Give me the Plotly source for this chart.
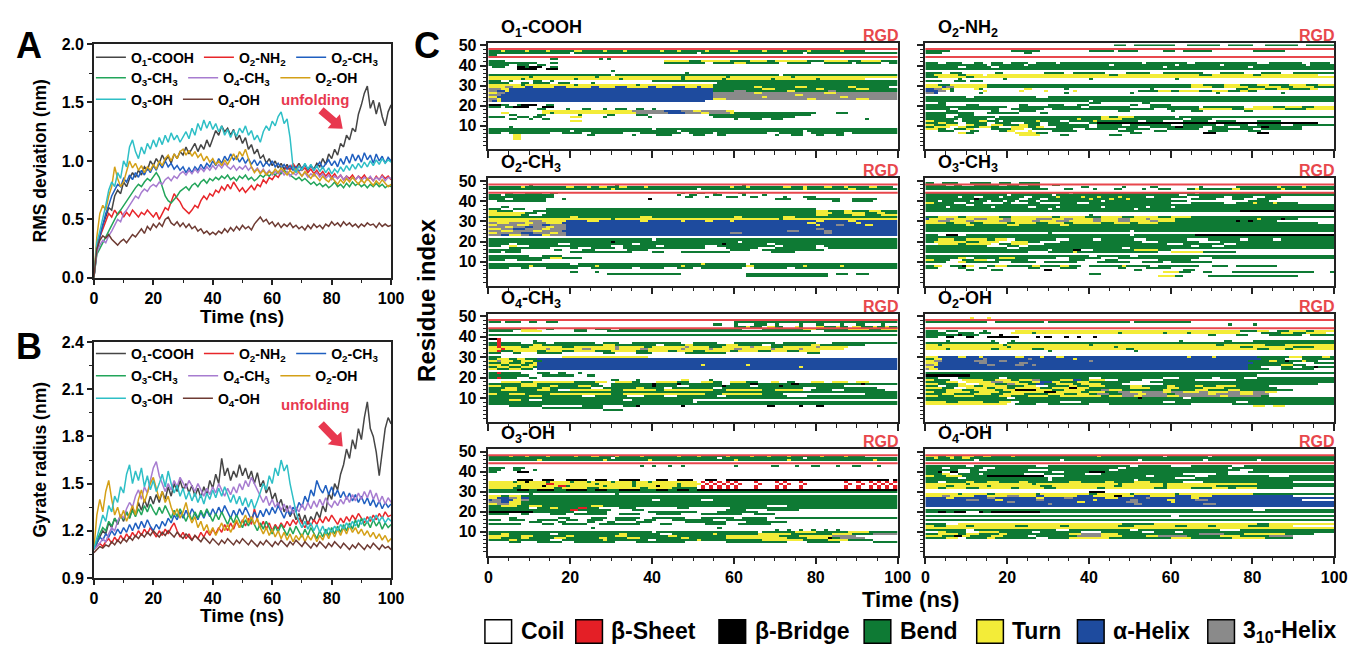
import re, math
import plotly.graph_objects as go

W, H = 1363, 659
FONT = "Liberation Sans, Arial, sans-serif"

time_ns = list(range(101))

series_names = ["O<sub>1</sub>-COOH", "O<sub>2</sub>-NH<sub>2</sub>", "O<sub>2</sub>-CH<sub>3</sub>",
                "O<sub>3</sub>-CH<sub>3</sub>", "O<sub>4</sub>-CH<sub>3</sub>", "O<sub>2</sub>-OH",
                "O<sub>3</sub>-OH", "O<sub>4</sub>-OH"]
series_colors = ["#454545", "#e8262a", "#1f5fc0", "#22a55a", "#a77cd0", "#d4a017", "#2ebfc6", "#6e3b33"]

# ---------------- Panel A : RMS deviation (nm) ----------------
rmsd_O1_COOH = [0.00,0.28,0.35,0.45,0.52,0.60,0.58,0.70,0.75,0.72,0.82,0.78,0.85,0.90,0.86,0.92,0.88,0.95,0.92,1.00,
                0.96,1.02,0.98,1.05,1.00,1.04,0.98,1.06,1.02,1.08,1.05,1.12,1.06,1.10,1.15,1.08,1.14,1.10,1.18,1.12,
                1.20,1.26,1.22,1.30,1.25,1.28,1.22,1.27,1.18,1.22,1.15,1.20,1.10,1.14,1.06,1.10,1.02,1.05,0.98,1.02,
                0.96,1.00,0.94,0.98,0.93,0.97,0.92,0.96,0.94,0.98,0.93,0.97,0.92,0.96,0.93,0.98,0.95,1.02,0.97,1.06,
                1.02,1.10,1.05,1.15,1.12,1.22,1.18,1.28,1.25,1.40,1.48,1.58,1.64,1.45,1.52,1.40,1.50,1.38,1.30,1.42,1.48]
rmsd_O2_NH2 = [0.00,0.25,0.35,0.42,0.48,0.55,0.52,0.58,0.54,0.57,0.52,0.56,0.53,0.58,0.55,0.52,0.56,0.54,0.58,0.55,
               0.52,0.56,0.50,0.55,0.60,0.58,0.66,0.72,0.68,0.65,0.60,0.57,0.55,0.58,0.62,0.60,0.66,0.70,0.67,0.72,
               0.70,0.75,0.73,0.78,0.75,0.80,0.76,0.82,0.78,0.74,0.77,0.73,0.76,0.79,0.75,0.80,0.78,0.84,0.81,0.86,
               0.84,0.88,0.86,0.90,0.92,0.95,0.92,0.98,0.94,0.96,0.92,0.94,0.90,0.93,0.89,0.92,0.88,0.91,0.87,0.90,
               0.86,0.89,0.85,0.88,0.84,0.87,0.85,0.88,0.84,0.87,0.85,0.88,0.84,0.86,0.83,0.87,0.84,0.88,0.85,0.87,0.84]
rmsd_O2_CH3 = [0.00,0.22,0.35,0.45,0.55,0.62,0.70,0.75,0.80,0.78,0.85,0.82,0.88,0.84,0.90,0.86,0.92,0.88,0.94,0.90,
               0.96,0.92,0.98,0.94,1.00,0.95,0.98,0.93,0.96,0.92,0.95,0.90,0.94,0.90,0.95,0.92,0.97,0.93,0.98,0.95,
               1.00,0.96,1.02,0.98,1.04,1.00,1.06,1.01,1.04,0.99,1.03,0.98,1.02,0.97,1.01,0.96,1.00,0.95,0.99,0.96,
               1.00,0.95,0.98,0.94,0.97,0.93,0.96,0.92,0.95,0.91,0.94,0.97,0.93,0.96,0.92,0.95,0.99,0.94,0.97,1.01,
               0.96,1.00,0.95,1.02,0.97,1.04,0.98,1.06,1.00,1.05,0.99,1.07,1.01,1.05,0.98,1.06,1.00,1.04,0.98,1.03,1.00]
rmsd_O3_CH3 = [0.00,0.20,0.25,0.30,0.35,0.40,0.45,0.50,0.55,0.58,0.62,0.66,0.70,0.74,0.77,0.80,0.78,0.82,0.85,0.83,
               0.87,0.90,0.86,0.78,0.70,0.66,0.64,0.67,0.70,0.74,0.76,0.78,0.75,0.79,0.81,0.78,0.82,0.84,0.81,0.85,
               0.83,0.86,0.84,0.87,0.85,0.88,0.84,0.86,0.83,0.87,0.85,0.88,0.84,0.86,0.83,0.85,0.88,0.86,0.89,0.87,
               0.90,0.88,0.91,0.89,0.92,0.90,0.88,0.86,0.84,0.86,0.83,0.85,0.82,0.80,0.82,0.79,0.81,0.78,0.80,0.77,
               0.79,0.82,0.78,0.80,0.77,0.81,0.78,0.82,0.79,0.81,0.78,0.80,0.77,0.80,0.78,0.81,0.78,0.80,0.77,0.79,0.78]
rmsd_O4_CH3 = [0.00,0.22,0.28,0.32,0.30,0.36,0.40,0.45,0.50,0.48,0.55,0.58,0.62,0.66,0.70,0.68,0.73,0.76,0.74,0.78,
               0.80,0.78,0.82,0.80,0.84,0.86,0.83,0.87,0.85,0.89,0.91,0.88,0.92,0.89,0.93,0.90,0.94,0.91,0.95,0.92,
               0.96,0.93,0.97,0.94,0.98,0.95,0.93,0.96,0.92,0.95,0.93,0.96,0.92,0.95,0.91,0.94,0.90,0.93,0.89,0.92,
               0.88,0.91,0.89,0.92,0.88,0.91,0.87,0.90,0.88,0.91,0.87,0.90,0.86,0.89,0.87,0.90,0.86,0.89,0.85,0.88,
               0.84,0.87,0.85,0.88,0.84,0.87,0.83,0.86,0.84,0.87,0.83,0.86,0.84,0.87,0.83,0.86,0.84,0.87,0.83,0.86,0.85]
rmsd_O2_OH = [0.00,0.35,0.55,0.62,0.58,0.70,0.78,0.95,0.85,0.78,0.82,0.90,1.00,0.94,0.98,0.92,0.96,0.90,0.95,0.92,
              0.97,0.93,1.00,0.96,1.02,1.05,1.00,1.06,1.02,1.08,1.10,1.05,1.09,1.04,1.08,1.03,1.06,1.00,1.04,0.99,
              1.02,0.97,1.00,0.96,1.01,0.97,1.02,1.06,1.01,1.08,1.04,1.10,1.02,0.95,0.90,0.93,0.89,0.92,0.88,0.91,
              0.89,0.93,0.90,0.94,0.91,0.88,0.92,0.89,0.93,0.90,0.87,0.91,0.88,0.85,0.89,0.86,0.83,0.87,0.84,0.82,
              0.86,0.83,0.80,0.84,0.81,0.85,0.82,0.86,0.83,0.80,0.84,0.81,0.85,0.82,0.79,0.83,0.80,0.84,0.81,0.78,0.80]
rmsd_O3_OH = [0.00,0.30,0.40,0.50,0.62,0.75,0.82,0.78,0.90,0.85,1.00,0.95,1.12,1.18,1.08,1.02,1.12,1.06,1.15,1.10,
              1.18,1.12,1.20,1.14,1.22,1.16,1.24,1.18,1.22,1.16,1.20,1.25,1.19,1.28,1.22,1.32,1.26,1.35,1.28,1.34,
              1.27,1.32,1.25,1.30,1.22,1.27,1.20,1.26,1.21,1.28,1.24,1.30,1.22,1.26,1.18,1.22,1.16,1.25,1.30,1.26,
              1.34,1.30,1.38,1.42,1.32,1.36,1.20,0.95,0.90,0.96,0.92,0.98,0.93,0.97,0.92,0.96,0.91,0.95,0.90,0.94,
              0.89,0.93,0.90,0.95,0.91,0.96,0.92,0.97,0.93,0.98,0.94,0.99,0.95,1.00,0.96,1.01,0.97,1.02,0.98,1.01,0.99]
rmsd_O4_OH = [0.00,0.25,0.32,0.36,0.34,0.37,0.33,0.30,0.28,0.31,0.33,0.30,0.34,0.37,0.35,0.39,0.42,0.38,0.44,0.41,
              0.46,0.43,0.47,0.44,0.50,0.52,0.47,0.45,0.48,0.44,0.47,0.43,0.46,0.42,0.44,0.40,0.42,0.38,0.40,0.37,
              0.39,0.37,0.40,0.38,0.42,0.39,0.43,0.40,0.44,0.41,0.45,0.42,0.44,0.41,0.46,0.49,0.52,0.48,0.50,0.46,
              0.48,0.44,0.47,0.43,0.46,0.44,0.47,0.43,0.45,0.42,0.44,0.41,0.45,0.42,0.46,0.43,0.45,0.42,0.46,0.44,
              0.48,0.45,0.47,0.44,0.48,0.45,0.47,0.44,0.46,0.43,0.46,0.44,0.47,0.45,0.46,0.43,0.47,0.44,0.46,0.44,0.45]

# ---------------- Panel B : Gyrate radius (nm) ----------------
rg_O1_COOH = [1.08,1.12,1.15,1.20,1.18,1.25,1.22,1.28,1.24,1.30,1.26,1.32,1.28,1.35,1.30,1.38,1.33,1.40,1.35,1.42,
              1.37,1.43,1.38,1.45,1.40,1.48,1.42,1.50,1.45,1.52,1.46,1.50,1.44,1.49,1.42,1.47,1.41,1.48,1.43,1.52,
              1.47,1.56,1.50,1.66,1.55,1.60,1.52,1.58,1.54,1.62,1.55,1.60,1.53,1.58,1.50,1.57,1.48,1.52,1.44,1.48,
              1.40,1.44,1.36,1.40,1.32,1.36,1.29,1.33,1.27,1.31,1.25,1.30,1.24,1.29,1.26,1.32,1.28,1.36,1.32,1.44,
              1.40,1.50,1.46,1.56,1.62,1.72,1.66,1.78,1.72,1.85,1.78,1.92,2.02,1.85,1.80,1.70,1.55,1.72,1.85,1.92,1.88]
rg_O2_NH2 = [1.08,1.10,1.12,1.10,1.13,1.15,1.12,1.16,1.13,1.17,1.14,1.18,1.15,1.19,1.16,1.20,1.17,1.21,1.18,1.22,
             1.19,1.16,1.20,1.17,1.21,1.18,1.22,1.25,1.20,1.16,1.19,1.15,1.18,1.14,1.17,1.15,1.19,1.16,1.20,1.17,
             1.21,1.18,1.22,1.19,1.24,1.20,1.25,1.21,1.26,1.22,1.27,1.23,1.28,1.24,1.34,1.27,1.22,1.26,1.21,1.25,
             1.20,1.24,1.21,1.25,1.22,1.26,1.23,1.27,1.24,1.28,1.25,1.22,1.26,1.23,1.27,1.24,1.28,1.25,1.29,1.26,
             1.30,1.27,1.24,1.28,1.25,1.29,1.26,1.30,1.27,1.31,1.28,1.25,1.29,1.26,1.30,1.27,1.31,1.28,1.32,1.29,1.30]
rg_O2_CH3 = [1.08,1.12,1.16,1.14,1.18,1.16,1.20,1.17,1.21,1.18,1.22,1.19,1.24,1.20,1.25,1.21,1.26,1.22,1.27,1.23,
             1.20,1.24,1.21,1.26,1.23,1.28,1.25,1.30,1.27,1.32,1.28,1.33,1.29,1.34,1.30,1.27,1.32,1.28,1.33,1.29,
             1.34,1.30,1.35,1.31,1.36,1.32,1.28,1.33,1.29,1.34,1.30,1.35,1.31,1.27,1.32,1.28,1.33,1.29,1.34,1.30,
             1.35,1.31,1.36,1.32,1.28,1.33,1.30,1.35,1.32,1.38,1.35,1.42,1.38,1.46,1.42,1.52,1.47,1.44,1.49,1.43,
             1.48,1.42,1.46,1.41,1.45,1.40,1.44,1.39,1.43,1.38,1.42,1.37,1.41,1.36,1.40,1.35,1.39,1.34,1.38,1.35,1.37]
rg_O3_CH3 = [1.08,1.14,1.18,1.22,1.20,1.26,1.23,1.28,1.25,1.30,1.27,1.32,1.28,1.33,1.29,1.34,1.30,1.36,1.32,1.37,
             1.33,1.30,1.35,1.31,1.36,1.32,1.28,1.33,1.29,1.34,1.30,1.26,1.31,1.27,1.32,1.28,1.33,1.29,1.34,1.30,
             1.26,1.31,1.27,1.32,1.28,1.24,1.29,1.25,1.30,1.26,1.22,1.27,1.23,1.28,1.24,1.20,1.25,1.21,1.26,1.22,
             1.18,1.23,1.19,1.24,1.20,1.17,1.22,1.18,1.23,1.19,1.16,1.21,1.17,1.22,1.18,1.15,1.20,1.16,1.21,1.17,
             1.22,1.18,1.23,1.19,1.24,1.20,1.25,1.21,1.27,1.22,1.28,1.23,1.26,1.22,1.27,1.23,1.26,1.21,1.25,1.22,1.24]
rg_O4_CH3 = [1.08,1.10,1.12,1.15,1.13,1.18,1.22,1.20,1.26,1.30,1.28,1.34,1.38,1.35,1.42,1.46,1.40,1.48,1.44,1.52,
             1.60,1.64,1.55,1.50,1.45,1.50,1.46,1.52,1.48,1.54,1.50,1.47,1.52,1.48,1.45,1.50,1.46,1.42,1.47,1.43,
             1.48,1.44,1.50,1.46,1.42,1.47,1.43,1.48,1.44,1.50,1.46,1.52,1.48,1.54,1.50,1.46,1.42,1.38,1.42,1.36,
             1.40,1.35,1.38,1.33,1.37,1.32,1.36,1.31,1.35,1.32,1.37,1.33,1.38,1.34,1.39,1.35,1.40,1.36,1.41,1.37,
             1.35,1.39,1.36,1.40,1.37,1.42,1.38,1.43,1.39,1.44,1.40,1.45,1.41,1.46,1.40,1.44,1.38,1.42,1.37,1.41,1.38]
rg_O2_OH = [1.08,1.30,1.40,1.32,1.45,1.52,1.40,1.30,1.35,1.28,1.33,1.26,1.31,1.36,1.30,1.40,1.46,1.38,1.44,1.50,
            1.54,1.46,1.40,1.45,1.38,1.42,1.35,1.30,1.34,1.28,1.32,1.38,1.30,1.25,1.29,1.22,1.26,1.20,1.24,1.18,
            1.22,1.17,1.21,1.25,1.20,1.24,1.19,1.23,1.27,1.22,1.26,1.30,1.25,1.29,1.24,1.28,1.22,1.18,1.22,1.17,
            1.21,1.16,1.20,1.15,1.19,1.14,1.18,1.13,1.17,1.14,1.18,1.13,1.17,1.14,1.18,1.13,1.17,1.14,1.19,1.15,
            1.20,1.16,1.21,1.17,1.22,1.18,1.23,1.19,1.22,1.18,1.21,1.17,1.20,1.16,1.19,1.15,1.18,1.14,1.17,1.13,1.15]
rg_O3_OH = [1.08,1.15,1.22,1.30,1.26,1.36,1.32,1.42,1.38,1.48,1.44,1.56,1.62,1.50,1.58,1.52,1.60,1.48,1.55,1.46,
            1.52,1.45,1.50,1.56,1.48,1.58,1.50,1.44,1.49,1.42,1.47,1.40,1.45,1.39,1.44,1.38,1.43,1.37,1.44,1.40,
            1.46,1.41,1.47,1.42,1.48,1.43,1.38,1.43,1.37,1.42,1.36,1.41,1.35,1.40,1.34,1.39,1.45,1.50,1.46,1.55,
            1.50,1.60,1.55,1.65,1.58,1.62,1.50,1.40,1.32,1.26,1.22,1.26,1.21,1.25,1.20,1.24,1.19,1.23,1.18,1.22,
            1.19,1.23,1.20,1.24,1.21,1.25,1.22,1.26,1.23,1.27,1.24,1.28,1.25,1.29,1.26,1.30,1.26,1.29,1.25,1.28,1.26]
rg_O4_OH = [1.06,1.08,1.10,1.09,1.11,1.10,1.13,1.11,1.14,1.12,1.15,1.13,1.16,1.14,1.17,1.15,1.18,1.16,1.19,1.17,
            1.20,1.18,1.16,1.19,1.17,1.20,1.18,1.16,1.19,1.17,1.15,1.18,1.16,1.14,1.17,1.15,1.13,1.16,1.14,1.12,
            1.15,1.13,1.11,1.14,1.12,1.15,1.13,1.11,1.14,1.12,1.15,1.13,1.11,1.14,1.12,1.10,1.13,1.11,1.14,1.12,
            1.10,1.13,1.11,1.14,1.12,1.10,1.13,1.11,1.14,1.12,1.10,1.13,1.11,1.09,1.12,1.10,1.13,1.11,1.09,1.12,
            1.10,1.13,1.11,1.09,1.12,1.10,1.08,1.11,1.09,1.12,1.10,1.08,1.11,1.09,1.12,1.10,1.08,1.11,1.09,1.10,1.08]

rmsd_series = [rmsd_O1_COOH, rmsd_O2_NH2, rmsd_O2_CH3, rmsd_O3_CH3, rmsd_O4_CH3, rmsd_O2_OH, rmsd_O3_OH, rmsd_O4_OH]
rg_series = [rg_O1_COOH, rg_O2_NH2, rg_O2_CH3, rg_O3_CH3, rg_O4_CH3, rg_O2_OH, rg_O3_OH, rg_O4_OH]

# ---------------- Panel C : DSSP secondary structure ----------------
ss_labels = ["Coil", "β-Sheet", "β-Bridge", "Bend", "Turn", "α-Helix", "3<sub>10</sub>-Helix"]
ss_letters = "CEBSTHG"
ss_colors = ["#ffffff", "#e41f26", "#000000", "#0e7a34", "#f3ec38", "#1e4b9e", "#8a8a8a"]

# run-length rows, residue 50 first down to residue 1; letter + length in 1-ns bins
dssp_O1_COOH = [
"C100","C100","C4S1C12S1C18S1C20S1C14S1C27S1",
"S3T1S5T1S4T1S6T2S5T1S4T1S8T1S3T1S6T1S5T2S6T1S4T1S5T1S7T1S5",
"S20C1S30C1S25C1S22","S2C98","C100","C15S2C10S1C1S1C70",
"S4C39T6S3T7S5T4S2T8S4T6S3T5S4T4","S12C3S2C26S10C2S5T3S8C2S6C3S7C1S6C2S5",
"S5C2S3C2S2C86","C1S3C3B2S1B3C2S2C83","C7B5C2B3C83","C30S1C69","C48S1C51",
"S30C1S40C1S28","T10S1T15S1T20S1T10S1T15S1T25","T8S1T12S1T10S1T14S1T9S1T11S1T10S1T11",
"S3C2S1C5S2C2S1C24S60","S5C3S2C1S4C2S3C5S1C30S44","T8S1T12S1T14S1T18S45",
"T4G2T3H2T5H3T6H2T4H3T5H2T4H3T3H1T3S10T2S8T3S10T2S8",
"G3T2H50S12T3S10T2S8T3S7","G2H2T1H50S5G3S10T2S8G2S15","T2G2H51G10T2G15T3G15",
"G3H52G20T2G23","T2H53G12T1G18T2G12","G2T1H52T3G20T2G10T3G7","G1H1T1H50C47","C100",
"B3S2C2S1B4C2S2C84","S3C1S2B4C3B3C84","C12S2C5S1C3S2C3S1C2S3C2S2C2S1C61",
"C13T22G8H4G3T2G6T2C40","C3T2C8T2S1T20G8H4G4T2G5T1S20C5S3C13",
"C5S2C5S2C8S1C6S2C5S3C15S25C21","S4C3S3C1S2C7T3C5S1C10S1C15S20C25",
"C5S2C3S1C2S2C45S1C3S3C2S3C20S1C8","C20T3C77","C100","C100","C5S1C94",
"S40C1S59","S20C1S25C1S30C1S22","S3C2S10C3S5C2S8C4S10C2S6C1S12C3S6C2S8C2S11",
"C6T2C16S2C9S1C5S4C5S3C3S2C12S1C3S3C3S2C3S2C15","C6T2C92","C6T2C92","C100","C100"]

dssp_O2_NH2 = [
"C46S3C2S10C3S8C2S6C3S8C2S7","C100","C100","S6C15S7C12S6C1S5C6S3C2S7C10S8C12",
"S4C20S2C76","C100","C100","C100","C100",
"S3C2S4C3S2C2S3C2S4C2S5C1S20C1S10C2S15C3S8C2S5","S15C1S8C1S20C1S15C1S10C1S20C1S7",
"S8C2S6C2S40C1S20C1S20","S100","C100","S4C2S3C8S2C10S5C2S8C5S6C3S10C4S6C4S5C3S10",
"S2T6S2T4C1T30S2T20S3T10S2T14","S3T7S2T88","C8S1C10S1C20S1C20S1C39","S4C3S3C1S3C86","C100",
"T3S3T9S50T3S5T4S4T3S5T4S3T4","T4H1G2T8S50T5S3T6S4T4S3T5S5",
"H2G2T2S1C5T1S1C10T2C8S1C20S1C20S3T4S3T3S5T2","H3G2C1S1C7T1C8T1C5T1C6T1C15S5T3S2T5S3T4S3T2S2",
"G2H1C10S1C20S1C15S1C20S1C15S1C13","C100","S10C2S15C3S70","S100","S40C1S59",
"C3S2C35S3C10S2C45","S5C5S3C10S2C5S4C3S3C10S2C3S5C40","S20C3S15C2S10C5S12C1S10C2T5S3T4S3T5",
"S6C2S10C3S8C2S25C3S8T8S3T10S5T7","C5S3C8S2C5S4C20S3C10S1C4S3C10S2C20","S12C3S8C5S2C70",
"S5C3S4C88","S5C2S10C1S25T2S2T4S10C1S38","S8C1S6C2S20T1S5T5S5S10C2S5C30",
"T2S5C2S4T2S3C1S8T1S5C2S6T1S10C2S4C5S6C2S5C5S6C5","S3T2S3C2S5C2S4C3S4C2S5C5S2B54",
"T2S3T3C2T2S3C1T3S4T2S3C2S10C2S6C2S10C3S8C2S6C2S6C3S10",
"S2T4C2T2S3T3S2C3T4S2T2C3S8C2S10C3S6B2S5C2S4C3S5B2S8",
"T3S2C2S3T2C4S5T3C2S10C3S8C2S6C4S8C3S10C2S10","C3S4C4S2C5S2T2C3T1C5S6C10S4C5S3C10S5C5S3C4",
"C8T2S2C10T5S3C20S3C15B3C10B3C16","C23T5C5S2C10S3C52","C100","C100","C100","C100"]

dssp_O2_CH3 = [
"C100","C100","C10S1C20S1C30S1C37",
"S8T1S10T2S3T1S2T2S3T2S4T1S20T1S3T1S8T2S3T1S4T2S3T1S5T2S4","S30T1S20C1S25T1S10T2S10","C100",
"C4S2C3S4C2S2C30S1C3S2C2S1C5S2C38","S3C1S12C30S1C2S2C4S2C5S1C4S1C33",
"S16C32S2C3S1C4S3C3S2C6S1C4S3C20","S4C2S8C4S1C20B1C30S4C4S8C3S6C5","C2S12C70S2C3S5C6",
"C100","C100","C3S2C95","S3C3S3C5S66C20","T2S4C5S3S66T3S4T2S4T3S4","T9S3C2S66T4S3T5S3T2S3",
"T8S2C3S67T3S6T3S4T4","S20T2S15T3S20T2S10T3S25","T30S1T40S1T28",
"T10G3T6H5T3H10T2H8T1H5T2H4T1H20T2H6T2H10","G2T3G4T2G3T4H60T2H10T1H9",
"T2G5T3G3H2G4H61T1H4G2H5T2H8","G4T2G3H2G3T2G3H81","T3G3H3G4T2G4H61G2H18",
"G3T3G5T2G5H55G3H6G2H16","T2G6H3G4T2G2H40G3H20G2H16","G3H2T3G2H3T2G4H81","C100",
"S40C1S59","S30B1S30C1S38","S5C2S10C3S15C2S20B1S10C2S30","S3C2T2C3S20C3S8C2S10C3S14C2S8C2S18",
"C5S10C5S2C3S6C2S20C5S8C4S10C3S17","S8C8S2C5S3C8S5C20S5C3S15C18","S3C1S4C12S15C5S3C4S12C10S6C25",
"C100","S10C3S5C82","S15T3S5C77","S4C3S6C87","C100","S20C2S30T1S10C1S36",
"S10T1S15T1S20T1S15T2S12T1S8T1S13","S5C3S2C4S8C3S10C2S6C3S4C2S10C3S8C2S25","C100",
"C20S2C4S1C73","C29S18C16S20C2S3C2S3C27","C63S20C17","C100","C100"]

dssp_O3_CH3 = [
"C100","S2C2S4C3S5C2S3C2S5C72","S5C2S2C3S6C2S3C2S3C3S2C67","S28C10S2C8S1C6S2C10S1C8S10T1S5T1S8",
"S30C4S2C5S1C4S2C5S1C3S3C4S2T1S8T2S10T1S12","C100","S35C1S30C1S33","S20C1S10C1S30C2S36",
"S8C1S3C2S4C1S5C2S6T1S5T1S3T1S4T1S6C2S8C3S6C2S5C3S4C3","S12B1S10C2S3C2S10T1S4T1S3T1S5S5C5S6C4S3C3S5C10",
"S3C1S7C1S3C1S3C1S2C1S4C1S15C1S20C15S5C12","T2S5C3S4C5S2C4S3C5S4C3S20C5S8C3S4T1S4T1S5",
"S10C2S88","S5C1S10C1S8C2S5C1S10C1S10C1S5C1S40","S30C1S20C1S48","S77B23","C100","C40S1C59",
"S3T5S2T8S3T10S2T6S4T5S3T6S3T5S35","H1T4G2T5G3T4G2T6G4T3G2T5G2T4G3T4G1T6S20T1S5B1S3",
"T3G3T4G2T6G3T5G2T4G3T6G2T4G3T5G2T4S15B1S2B1S6","T5S2T4S3T6S2T5S3T4S2T7S3T4S2T5S3S36",
"S10T2S8T3S10T2S65","S100","S100","S50C1S49","C30S1C69","S3C2B3C2S40C1S15B34","S100",
"S3T4S3T5S2T3C2S10C3S6C2S8C3S10C5S8C2S6C2S13","S2T8S3T5C3T4S3C5S20C4S10C5S28",
"C3T5S2T6C2S3T4C4S30C4S10C3S24","S15C5S3C2S40C2S3C3S27","S20C3S25C2S50","S30C1S5B2C3S10T6S3C40",
"S25C5S6T1S20C3T8S8C24","C100","S40C2S8C2S48","S8T2C2S6T4S10C3S8C4S20C3S30",
"T2S4C3S3T3C2S8C10S4C5S3C10S8C35","S5C3T2S8C3S6C2S8C5S8C3S5C2S10C30","C100",
"S2T2C2S3B1T2C3S2T3S6T2S5T2S3C2S8T1S6C2S10C3S4C2S10","S3C5S2C3S2C10S3C5S4C10S2C5S6C40",
"C10S2C4S3C10B2C20S2C10S3C34","C58T4S3C3S2C5S20C4S1","C40S3C57","C57T4S2C6S22C9","C100","C100"]

dssp_O4_CH3 = [
"C100","C100","S16C8S1C14S1C3S1C2S1C8S1C45","S3C1S4C2S2C2S3C43S45",
"C55S2C3S1C4S3C2S1C5S1C3S2C4S1C3S2C4S1C3","C60S3T1S3C1T2S2C3T1S1C3T2S3T1S2C1T2S3T1S2T1S3",
"S8T4C2S2C5S3C2S4C2S30C5S10T3S8T5S3T4","S6C2T5C8S3C5S50C3S18","C100","S100","C100",
"B2E1C97","C2E1C8S1C88","S2E1S5C3S3C2S10C2S4C3S12C3S6C4S10C2S8C4S16",
"S2E1S8T2S15T3S10C2S5T2S8T3S6C2S10T2S11","T2E1T5S2T8S3T10G1T6S2T8G1T5S3T7G1T4S3T8G1T7",
"T3E1T10G1T8G2T6G1T5G2T8G1T6G1T5G2T7G1T6G1T10","T2E1S3T6S2T4S3T5S4T6S3T5S2T4S3T6S2T5S3T4S3T5",
"S3C3S2C4S6C10S3C5S4C8S10C20S3C15","C100","S3C15T21C61","S2T3S2T2S3H88","T2G1T3S2T3S2H87",
"S3T2S3T1S2T1H88","T3S2T3S2T2H40T1H10T1H38","S2T3S3T3S1H64T1H23","T2S3T3S3C1H88","C100",
"S2E1S5C4S3C2S2C3S1C78","S10C3S8C3S2C74","S2E1S4C3S2C88","C30S2C4S1C10T2C5S1C45",
"C3T5S3T10S5T3C2T4S2C4T5S3C3T3S2C2T4S3C3T2C2S2C4T3C2T4C2T3",
"S8T4S15C3S10B1S5B1S10C2S5B2S8B2S15B1S8","T3S5T4S3T2S5T3S3C2S10B1S5C3S8B1S6C2S5B1S15",
"S4T3S6T2S10C3S8T2S5C2S10C2S20C3S15","S3T4S5T3S2C3T10S3T8S2T12S3T9S3T7C2S5C3S10","S100",
"T2S3T4S6T15S3T20S4T10S5C20S8","S10T3S10C3S8C4S5C3S10C2S15C5S22","S100",
"S5T3S2C3S20C2S15C50","S50C1S49","S100","C5S8C10S5C5S3B1C10B1C20B2C6B1C3B2C10",
"C13S15C72","C28S5C67","C100","C100","C100"]

dssp_O2_OH = [
"C100","C11T1C3T1C84","S2T1S3C1S5T1S4C1S8C1S5T1S6C1S4T1S5C1S6T1S5C35","S15C2S12C1S20C1S14C35",
"C74S1C5S1C19","C100","C100","S3C2S3C6S1C7T55S4T3C2S3T4S2T6",
"S5C3S4C1S3C5T5S1T20S1T10S1T5S1T12C5S5T3S3T5","S8B1S4C5B1C50S2C5S3C5S8C2S6",
"S3C2B2C3B2C3B8C4B1C1B2C3B1C2B1C3B1C60","C100","C5S1C10S1C4S1C40S1C10S2C5S20","S18C2S80",
"T3S1T15S1T20S1T30S2T10S5T12","T20S1T25S1T30S3T10S5T5","T5S1T10S2T8S3T20S2T30S3T4S2T10",
"C30S1C20S1C48","C100","C100","T3H5T2H3T1H8T2H4T1H3T2H30T1H5T1H10S8T3S5T2S2",
"S2T2H10G1H10G1H10T1H45S6C4S8","T2G2H8G3H3G2H20G1H38S5T2S2B1S3T1S3","T3H10G2H8G2H55S10C5S5",
"G2T1H12G2H5G2H2G1H52S8T3S3","T2H77S3C5S3C2S3B1S4","G1T2H76S5C3S8C5","C100","S100","B11S70C19",
"S3C5S10C2S20C3S15C4S8C2S6C3S19","T2S4C3T5S3T4S2T3G2S5T3H2S2T4C3S6C5S8C10S26",
"S5T3C2T6G3T4S3T2H3T2S4T3S10C5S45","T3S5T2C3T4S3G2T3S2H2S3T4S2T5S5C10S38",
"S3C2S3T4S2T6S4T3C3S5T2S3T4S6T3S6T2S5T2S3T5S8","T4S3C3T5S2T3S2T6S3T4B2T3S10T5S4T3S6T5S13",
"S5T4S3T5S2T3B5T4S3T5S4G2T3S10T2S6T3S5T3S13","T2S3T6S2T5S3T8B3T6S2T4S3G3T3G5T2G3T4G2T5G3T3G3T3",
"S4T3S5T4S3T5S6T4S3T3S2G3S3G4T2G5S2G8T2G6T3G4","T3S4T5S6T3S4T5S3T10S2T3G3T2G6T3G10T2G8S2",
"S20C2S30B1S10C2S35","S100","T5S3T6S4T3C2S10C5S20C3S15C3S21","T20C2S5C3S10C5S20C10S25",
"C80T3C2T3C12","C100","C100","C100","C100","C100"]

dssp_O3_OH = [
"C100","C100","S5T1S3T1S4T1S6T1S3T2S4T1S5T1S8T1S4T1S6T1S5T1S3T1S4T1S7T1S5T1S4",
"S30C1S25C1S20C1S22","S12T1S15T1S10T1S20T1S12T1S20T1S5","C100","C100",
"C37S1C2S1C3S1C2S1C12S1C8S2C4S1C3S2C4S1C3S2C4S1C5S1","S4C2S3C91","S3C3S2C3S1C88","S2C5B3C90",
"C100","C100","C100","C7B4C2B3C3B5C2B3C3B5C4B3C2B4C3B3C2B40C1B5",
"T6S1T2B1T4S1T5S1T3S1T5S1T4S1T3S1T6T5C1E1C1E1C1E1C1E1C1E1C4E1C4E1C1E1C3E1C10E1C2E1C2E1C1E1C1E1C1E1",
"T14E2T10S1T8S1T10S1T5C1E1C1E1C1E1C1E1C1E1C4E1C4E1C1E1C3E1C10E1C2E1C2E1C1E1C1E1C1E1",
"T7S1T5B1T3E2S1T8S1T6S1T5B1T4S1T4C1E1C1E1C1E1C1E1C1E1C4E1C4E1C1E1C3E1C10E1C2E1C2E1C1E1C1E1C1E1",
"T6S2T8S2T6S3T10S2T6S6C1E1C1E1C1E1C1E1C1E1C4E1C4E1C1E1C3E1C10E1C2E1C2E1C1E1C1E1C1E1",
"S7B3S2B4S3B5S2B3S3B5S4B3S2B3S2B50","S100","C10S1C20S1C68","T3S2T3S92","T2H3G2T1H2S90",
"H1G2H3T2G2S30C2S10C3S48","G3H2T3S92","T2G3T3S92","S3T4S3T3S12T3S40C5S27",
"S10C2S3T2S5E2S3C5S4C10S3C10S41","S20E2S8C5S3C20S5C5S8C24","B11S10C3S5C10S12C5S10C34",
"S5C3S2C5S4C2S8C3S5C4S6C5S10C3S5C30","C100","C5S2C10S3C5S4C2S6C3S8C4S8C2S6C2S30",
"S3C2S4C3S5C2S3C2S4C3S5C2S3C4S10C3S10C32","C10S3C4S2C5S2C3S2C5S4C8S10C5S10C27",
"S8C5S3C2S6C3S10C5S3C8S5C3S8C31","C100","C25S1C30S1C43","C70S1C2S1C2S1C2S1C2S1C2S1C15",
"S40C1S25C1S8T5S8T5S7","S3T2S10C2S15T2S8C3S10T1S10T8S10T5S5G6","T5S3T3S8T2S10T3S10T2S12T13S5T8S0G6",
"T3S5T2S6T3S8T2S5T3S10T2S9T15S5T5B1S2G6","S5T2S8C3S10T1S10C2S10T1S15T10S6T5S6",
"C5S3C4S6C3S10C5S12C10S15C5S8C8S6","C100","C100","C100","C100"]

dssp_O4_OH = [
"C100","C100","T3S2T2S2T3S2T2S5T1S20T1S15C1S10C1S30","S2T1S3T1S2T2S89",
"S12C1S20C1S18C1S15C1S12C1S19","C100","C100","S10C2S15C3S20C2S8C5S10C3S22",
"S4C2S8C3S30C2S25C1S25","S8C3S2C2S10C5S15C2S30C3S20","S3B1C2B2C3S20C3S6B4S30C5S21",
"S4T2C2S5C1S10C5S10C4S20C8S3C26","T2S3T4S6B14C5S20C2S10C3S15C5S11","S8C2S20C1S30C5S34",
"S30C1S20C1S48","S3C2S5T2S3T3S5T2S10T3S6T2S5T4S8C5S22","T10S1T15S1T20S1T10S1T22S19",
"T5S2T8S1T12S3T15S2T10S1T12S29","T3S2T5S3T8S2T6S3T10S2T12S3T6S5T4S2T5S9","C100","C40B4C56",
"T8S1T6S2T10S1T12S2T8S1T10S1T18S20","T4G2T6H3T5G3T4H2T8H4T5B2T3H4T6H4T5H20",
"H5T2H8G2H10T2H5G2H8T3H7G1H10T2H33","H10G3H4T2H8G2H12T1H8G2H7T2H5G3H23",
"H20G2H15T2H10G3H8T1H39","H30G1H20G2H15G3H29","H100","C100","S80C3S17","S3B2S2B3C3B1S2B12S72",
"C100","S60C2S38","C100","S100","C100","S5C3T40S8T25S3T16",
"T2S3T5S2T10S3T8S2T12S4T10S3T5S2T8S5T6","T100","S10C2S20C3S15C2S20C5S23",
"C3T2S5C3T5S8C2S10C5S10C3S5C2S37","S3T5S2T3S5T2S15T3G5T4S20G6S5T10S7",
"T4S3B2T2S5T3S6C2S10G6T5S6T3G7S8T5S7G6","S5T3C2S5T2S10C3S5T10S15T5S10T8S7",
"C100","C100","C100","C100","C100","C100"]

panel_names = ["O<sub>1</sub>-COOH", "O<sub>2</sub>-NH<sub>2</sub>", "O<sub>2</sub>-CH<sub>3</sub>", "O<sub>3</sub>-CH<sub>3</sub>",
               "O<sub>4</sub>-CH<sub>3</sub>", "O<sub>2</sub>-OH", "O<sub>3</sub>-OH", "O<sub>4</sub>-OH"]
panel_rows = [dssp_O1_COOH, dssp_O2_NH2, dssp_O2_CH3, dssp_O3_CH3, dssp_O4_CH3, dssp_O2_OH, dssp_O3_OH, dssp_O4_OH]
residues = list(range(1, 51))
time_bins = [i + 0.5 for i in range(100)]


def decode(rows):
    idx = {c: i for i, c in enumerate(ss_letters)}
    z = []
    for s in rows:
        seq = []
        for ch, n in re.findall(r"([CEBSTHG])(\d+)", s):
            seq += [idx[ch]] * int(n)
        seq = (seq + [0] * 100)[:100]
        z.append(seq)
    return z[::-1]


def PX(x):
    return x / W


def PY(y):
    return 1 - y / H


fig = go.Figure()
legend_rows = [[0, 1, 2], [3, 4, 5], [6, 7]]
for panel, (series, xa, ya, legs) in enumerate([(rmsd_series, "x", "y", ["legend", "legend2", "legend3"]),
                                               (rg_series, "x2", "y2", ["legend4", "legend5", "legend6"])]):
    for i, vals in enumerate(series):
        leg = legs[[k for k, r in enumerate(legend_rows) if i in r][0]]
        fig.add_trace(go.Scatter(x=time_ns, y=vals, mode="lines", name=series_names[i],
                                 line=dict(color=series_colors[i], width=1.5),
                                 xaxis=xa, yaxis=ya, legend=leg, hoverinfo="skip"))

ncol = len(ss_colors)
colorscale = []
for i, c in enumerate(ss_colors):
    colorscale += [[i / ncol, c], [(i + 1) / ncol, c]]

tops = [36, 175, 314, 453]
bots = [145, 285, 425, 562]
cols = [(490.5, 905.0), (933.0, 1347.0)]
layout_axes = {}
annotations = []
shapes = []

axis_line = dict(showline=True, linecolor="#222222", linewidth=1.5, mirror=True, showgrid=False, zeroline=False,
                 ticks="outside", tickcolor="#222222", tickwidth=1.5)
tick_font = dict(family=FONT, size=16, color="black", weight="bold")
tick_font_c = dict(family=FONT, size=16, color="black", weight="bold")

layout_axes["xaxis"] = dict(axis_line, domain=[PX(91), PX(392)], range=[0, 100], tick0=0, dtick=20, ticklen=5,
                            anchor="y", tickfont=tick_font,
                            minor=dict(ticks="outside", dtick=10, ticklen=3, tickwidth=1.2, tickcolor="#222222"))
layout_axes["yaxis"] = dict(axis_line, domain=[PY(277), PY(37)], range=[0, 2.0], tick0=0, dtick=0.5, ticklen=5,
                            tickformat=".1f", anchor="x", tickfont=tick_font,
                            minor=dict(ticks="outside", dtick=0.25, ticklen=3, tickwidth=1.2, tickcolor="#222222"))
layout_axes["xaxis2"] = dict(axis_line, domain=[PX(91), PX(392)], range=[0, 100], tick0=0, dtick=20, ticklen=5,
                             anchor="y2", tickfont=tick_font,
                             minor=dict(ticks="outside", dtick=10, ticklen=3, tickwidth=1.2, tickcolor="#222222"))
layout_axes["yaxis2"] = dict(axis_line, domain=[PY(585), PY(343)], range=[0.9, 2.4], tick0=0.9, dtick=0.3, ticklen=5,
                             tickformat=".1f", anchor="x2", tickfont=tick_font,
                             minor=dict(ticks="outside", dtick=0.15, ticklen=3, tickwidth=1.2, tickcolor="#222222"))

panel_order = [(0, 0, 0), (1, 1, 0), (2, 0, 1), (3, 1, 1), (4, 0, 2), (5, 1, 2), (6, 0, 3), (7, 1, 3)]
for k, (pi, col, row) in enumerate(panel_order):
    n = k + 3
    xa, ya = f"x{n}", f"y{n}"
    x0, x1 = cols[col]
    fig.add_trace(go.Heatmap(x=time_bins, y=residues, z=decode(panel_rows[pi]), colorscale=colorscale,
                             zmin=-0.5, zmax=ncol - 0.5, showscale=False, xaxis=xa, yaxis=ya,
                             hoverinfo="skip", showlegend=False))
    layout_axes[f"xaxis{n}"] = dict(axis_line, domain=[PX(x0), PX(x1)], range=[0, 100], tickvals=[0, 20, 40, 60, 80, 100],
                                    ticklen=7, anchor=ya, showticklabels=(row == 3), tickfont=tick_font_c,
                                    minor=dict(ticks="outside", dtick=5, ticklen=4, tickwidth=1.2, tickcolor="#222222"))
    layout_axes[f"yaxis{n}"] = dict(axis_line, domain=[PY(bots[row]), PY(tops[row])], range=[-1.8, 51.2],
                                    tickvals=[10, 20, 30, 40, 50], ticklen=7, anchor=xa, showticklabels=(col == 0),
                                    tickfont=tick_font_c,
                                    minor=dict(ticks="outside", dtick=2, ticklen=4, tickwidth=1.2, tickcolor="#222222"))
    annotations.append(dict(text=panel_names[pi], x=PX(x0 + 11), y=PY(tops[row] - 15), xref="paper", yref="paper",
                            xanchor="left", yanchor="middle", showarrow=False,
                            font=dict(family=FONT, size=18, color="black", weight="bold")))
    annotations.append(dict(text="RGD", x=PX(x1 + 3), y=PY(tops[row] - 8), xref="paper", yref="paper",
                            xanchor="right", yanchor="middle", showarrow=False,
                            font=dict(family=FONT, size=16, color="#e8474c", weight="bold")))
    shapes.append(dict(type="rect", xref=xa, yref=ya, x0=-1.3, x1=101.4, y0=44.2, y1=48.2,
                       line=dict(color="#e8474c", width=2), fillcolor="rgba(0,0,0,0)"))

leg_font = dict(family=FONT, size=14, color="black", weight="bold")
leg_centers = [51, 72, 94, 355, 378, 401]
leg_keys = ["legend", "legend2", "legend3", "legend4", "legend5", "legend6"]
legends = {}
for key, yc in zip(leg_keys, leg_centers):
    legends[key] = dict(x=PX(88), y=PY(yc), xanchor="left", yanchor="middle", orientation="h",
                        bgcolor="rgba(0,0,0,0)", borderwidth=0, font=leg_font, itemwidth=30,
                        tracegroupgap=0, traceorder="normal")


def txt(text, x, y, size, color="black", xanchor="center", angle=0):
    annotations.append(dict(text=text, x=PX(x), y=PY(y), xref="paper", yref="paper", xanchor=xanchor,
                            yanchor="middle", showarrow=False, textangle=angle,
                            font=dict(family=FONT, size=size, color=color, weight="bold")))

txt("A", 25, 38, 36)
txt("B", 25, 347, 36)
txt("C", 428, 38, 36)
txt("RMS deviation (nm)", 36, 157, 17.5, angle=-90)
txt("Gyrate radius (nm)", 36, 464, 17.5, angle=-90)
txt("Time (ns)", 241, 317, 19)
txt("Time (ns)", 241, 624, 19)
txt("unfolding", 315, 94, 15, color="#e8384f")
txt("unfolding", 315, 407, 15, color="#e8384f")
txt("Residue index", 428, 300, 24, angle=-90)
txt("Time (ns)", 918, 607, 22)


def block_arrow(x0, y0, x1, y1, shaft=8, head=19, headlen=12):
    dx, dy = x1 - x0, y1 - y0
    L = math.hypot(dx, dy)
    ux, uy = dx / L, dy / L
    nx, ny = -uy, ux
    bx, by = x1 - ux * headlen, y1 - uy * headlen
    pts = [(x0 + nx * shaft / 2, y0 + ny * shaft / 2), (bx + nx * shaft / 2, by + ny * shaft / 2),
           (bx + nx * head / 2, by + ny * head / 2), (x1, y1), (bx - nx * head / 2, by - ny * head / 2),
           (bx - nx * shaft / 2, by - ny * shaft / 2), (x0 - nx * shaft / 2, y0 - ny * shaft / 2)]
    path = "M " + " L ".join(f"{PX(x):.5f},{PY(y):.5f}" for x, y in pts) + " Z"
    return dict(type="path", xref="paper", yref="paper", path=path, fillcolor="#e8384f", line=dict(width=0))

shapes.append(block_arrow(321, 105, 343, 124))
shapes.append(block_arrow(321, 427, 343, 450))

box_lefts = [487, 579, 724, 871, 985, 1087, 1219]
for lab, col, bl in zip(ss_labels, ss_colors, box_lefts):
    shapes.append(dict(type="rect", xref="paper", yref="paper", x0=PX(bl), x1=PX(bl + 27), y0=PY(652), y1=PY(628),
                       line=dict(color="black", width=1.5), fillcolor=col))
    txt(lab, bl + 34, 640, 23, xanchor="left")

fig.update_layout(width=W, height=H, margin=dict(l=0, r=0, t=0, b=0), paper_bgcolor="white",
                  plot_bgcolor="white", showlegend=True, annotations=annotations, shapes=shapes,
                  **layout_axes, **legends)
fig.write_html("out.html")
